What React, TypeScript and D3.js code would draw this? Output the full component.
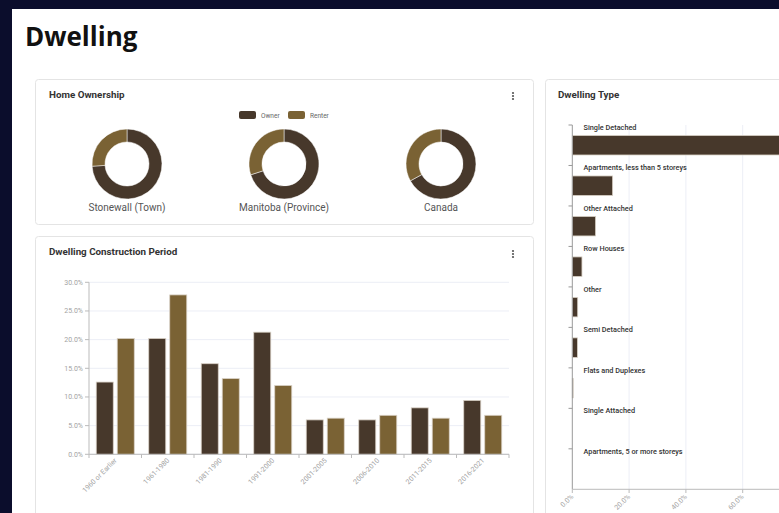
import React from 'react';
import * as d3 from 'd3';

// Home ownership donuts
const regions = ['Stonewall (Town)', 'Manitoba (Province)', 'Canada'];
const ownerPct = [74, 70, 67];
const renterPct = [26, 30, 33];

// Dwelling construction period (% of households)
const periods = ['1960 or Earlier', '1961-1980', '1981-1990', '1991-2000', '2001-2005', '2006-2010', '2011-2015', '2016-2021'];
const ownerShare = [12.6, 20.2, 15.8, 21.3, 6.0, 6.0, 8.1, 9.4];
const renterShare = [20.2, 27.8, 13.2, 12.0, 6.3, 6.8, 6.3, 6.8];
const periodTicks = [0, 5, 10, 15, 20, 25, 30];

// Dwelling type (% of dwellings)
const dwellingTypes = ['Single Detached', 'Apartments, less than 5 storeys', 'Other Attached', 'Row Houses', 'Other', 'Semi Detached', 'Flats and Duplexes', 'Single Attached', 'Apartments, 5 or more storeys'];
const dwellingShare = [77.5, 14.2, 8.2, 3.4, 1.9, 1.8, 0.3, 0, 0];
const typeTicks = [0, 20, 40, 60];

const OWNER = '#47382b';
const RENTER = '#7a6234';
const GRID = '#eceef6';
const TICK = '#a3a3a3';
const FONT = 'Roboto, "Liberation Sans", sans-serif';

const Kebab = ({ x, y }: { x: number; y: number }) => (
  <g fill="#555">
    {[0, 3, 6].map(d => <circle key={d} cx={x} cy={y + d} r={1.1} />)}
  </g>
);

const Card = ({ x, y, w, h }: { x: number; y: number; w: number; h: number }) => (
  <rect x={x} y={y} width={w} height={h} rx={3} fill="#fff" stroke="#e4e4e4" strokeWidth={1} />
);

const Donuts = () => {
  const pie = d3.pie<number>().sort(null).value(d => d);
  const arc = d3.arc<d3.PieArcDatum<number>>().innerRadius(22).outerRadius(35);
  const cx = d3.scalePoint(regions, [127, 441]);
  return (
    <g>
      {regions.map((r, i) => {
        const slices = pie([ownerPct[i], renterPct[i]]);
        const x = cx(r) as number;
        return (
          <g key={r}>
            <g transform={`translate(${x},164)`}>
              {slices.map((s, j) => (
                <path key={j} d={arc(s) || ''} fill={j === 0 ? OWNER : RENTER} stroke="#fff" strokeWidth={0.5} />
              ))}
            </g>
            <text x={x} y={211} textAnchor="middle" fontSize={10} fill="#555" fontFamily={FONT}>{r}</text>
          </g>
        );
      })}
      <rect x={239} y={111} width={17} height={8} rx={2} fill={OWNER} />
      <text x={261} y={117.5} fontSize={6.5} fill="#666" fontFamily={FONT}>Owner</text>
      <rect x={288} y={111} width={17} height={8} rx={2} fill={RENTER} />
      <text x={310} y={117.5} fontSize={6.5} fill="#666" fontFamily={FONT}>Renter</text>
    </g>
  );
};

const PeriodChart = () => {
  const y = d3.scaleLinear([0, 30], [454.3, 282.3]);
  const x = d3.scaleBand(periods, [89, 509]);
  const sub = d3.scaleBand(['owner', 'renter'], [0, x.bandwidth()]).paddingInner(0.19).paddingOuter(0.345);
  return (
    <g fontFamily={FONT}>
      {periodTicks.map(t => (
        <g key={t}>
          <line x1={89} x2={509} y1={y(t)} y2={y(t)} stroke={GRID} />
          <line x1={85} x2={89} y1={y(t)} y2={y(t)} stroke="#bbb" />
          <text x={83} y={y(t) + 2.5} textAnchor="end" fontSize={7} fill={TICK}>{t.toFixed(1)}%</text>
        </g>
      ))}
      {periods.map((p, i) => {
        const x0 = x(p) as number;
        return (
          <g key={p}>
            <rect x={x0 + (sub('owner') as number)} y={y(ownerShare[i])} width={sub.bandwidth()} height={y(0) - y(ownerShare[i])} fill={OWNER} stroke="#d8d0c5" strokeWidth={0.8} />
            <rect x={x0 + (sub('renter') as number)} y={y(renterShare[i])} width={sub.bandwidth()} height={y(0) - y(renterShare[i])} fill={RENTER} stroke="#d8d0c5" strokeWidth={0.8} />
            <text transform={`translate(${x0 + x.bandwidth() / 2 + 2},461) rotate(-45)`} textAnchor="end" fontSize={7} fill={TICK}>{p}</text>
          </g>
        );
      })}
      <line x1={89} x2={89} y1={282.3} y2={454.3} stroke="#bbb" />
      <line x1={89} x2={509} y1={454.3} y2={454.3} stroke="#bbb" />
      {[...periods.map(p => x(p) as number), 509].map((t, i) => (
        <line key={i} x1={t} x2={t} y1={454.3} y2={458} stroke="#bbb" />
      ))}
    </g>
  );
};

const TypeChart = () => {
  const y = d3.scaleBand(dwellingTypes, [125, 489.3]);
  const x = d3.scaleLinear([0, 100], [572.3, 856.3]);
  const barH = 19.5;
  return (
    <g fontFamily={FONT}>
      {typeTicks.map(t => (
        <g key={t}>
          {t > 0 && <line x1={x(t)} x2={x(t)} y1={125} y2={489.3} stroke={GRID} />}
          <line x1={x(t)} x2={x(t)} y1={489.3} y2={493} stroke="#bbb" />
          <text transform={`translate(${x(t) + 1.5},497) rotate(-45)`} textAnchor="end" fontSize={7} fill={TICK}>{t.toFixed(1)}%</text>
        </g>
      ))}
      {dwellingTypes.map((c, i) => {
        const y0 = y(c) as number;
        return (
          <g key={c}>
            <line x1={568.5} x2={572.3} y1={y0} y2={y0} stroke="#999" />
            <text x={583.5} y={y0 + 5} fontSize={7.3} fontWeight={500} fill="#333">{c}</text>
            {dwellingShare[i] > 0 && (
              <rect x={x(0)} y={y0 + (y.bandwidth() - barH) / 2} width={x(dwellingShare[i]) - x(0)} height={barH} fill={OWNER} stroke="#d8d0c5" strokeWidth={0.8} />
            )}
          </g>
        );
      })}
      <line x1={572.3} x2={572.3} y1={125} y2={489.3} stroke="#999" />
      <line x1={572.3} x2={779} y1={489.3} y2={489.3} stroke="#bbb" />
    </g>
  );
};

export default function App() {
  return (
    <svg width={779} height={513} style={{ position: 'absolute', left: 0, top: 0 }}>
      <rect width={779} height={513} fill="#0b0d2c" />
      <rect x={12} y={9} width={767} height={504} fill="#fff" />
      <text x={25} y={46} fontSize={26} fontWeight={700} fontFamily='"Open Sans", Inter, sans-serif' fill="#111">Dwelling</text>

      <Card x={35.5} y={79.5} w={498} h={145} />
      <text x={49} y={98} fontSize={9.8} fontWeight={700} fontFamily={FONT} fill="#333">Home Ownership</text>
      <Kebab x={513} y={93} />
      <Donuts />

      <Card x={35.5} y={236.5} w={498} h={290} />
      <text x={49} y={255} fontSize={9.8} fontWeight={700} fontFamily={FONT} fill="#333">Dwelling Construction Period</text>
      <Kebab x={513} y={251} />
      <PeriodChart />

      <Card x={545.5} y={79.5} w={260} h={450} />
      <text x={558} y={98} fontSize={9.8} fontWeight={700} fontFamily={FONT} fill="#333">Dwelling Type</text>
      <TypeChart />
    </svg>
  );
}
